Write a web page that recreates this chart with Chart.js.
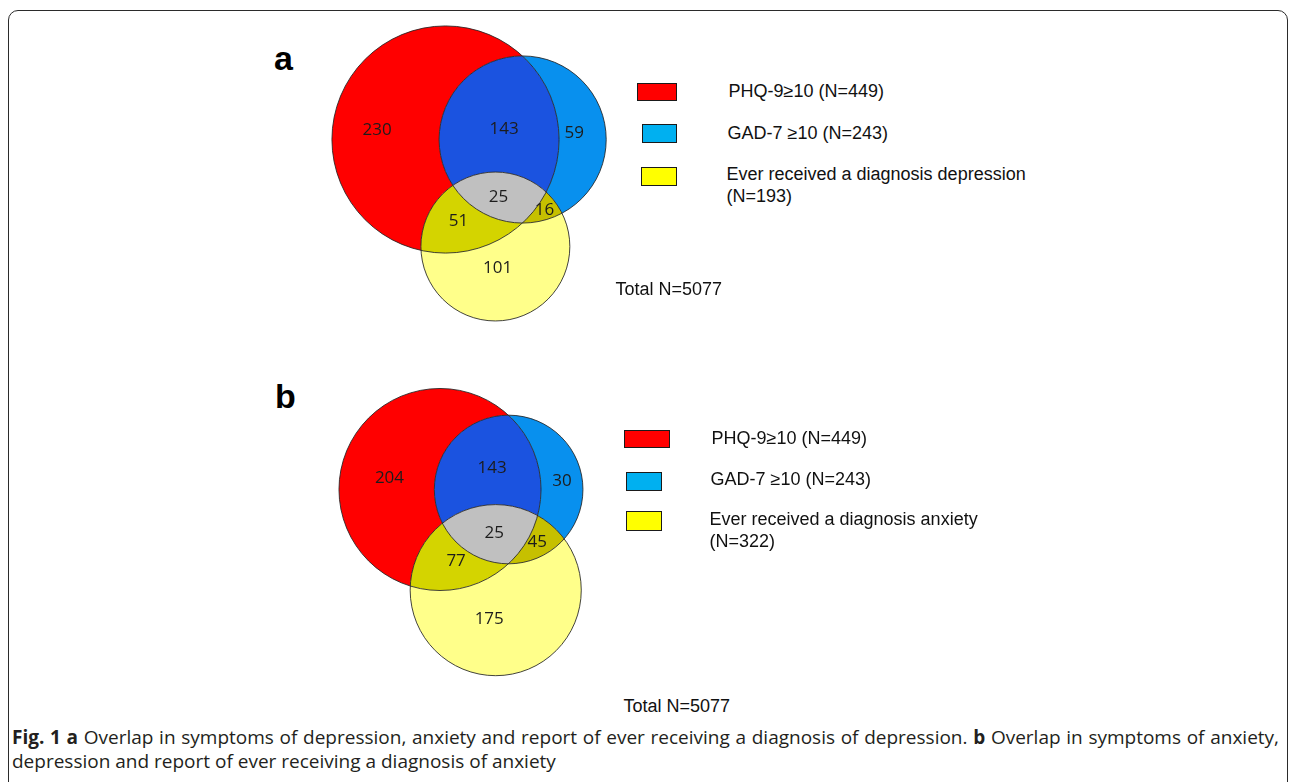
<!DOCTYPE html>
<html>
<head>
<meta charset="utf-8">
<script src="https://cdn.jsdelivr.net/npm/chart.js@4.4.1/dist/chart.umd.min.js"></script>
<style>
  body { margin: 0; background: #fff; }
  #fig { position: relative; width: 1290px; height: 782px; overflow: hidden; font-family: "Liberation Sans", Arial, sans-serif; color: #111; }
  .frame { position: absolute; left: 8px; top: 10px; width: 1280px; height: 820px; border: 1.5px solid #2b2b2b; border-radius: 10px; box-sizing: border-box; }
  .panel { position: absolute; }
  .letter { position: absolute; font-weight: bold; font-size: 34px; line-height: 34px; color: #000; }
  .swatch { position: absolute; border: 1.5px solid #1a1a1a; box-sizing: border-box; }
  .lbl { position: absolute; font-size: 18px; line-height: 22.4px; width: 310px; color: #111; }
  .total { position: absolute; font-size: 18px; line-height: 22px; white-space: nowrap; color: #111; }
  .caption { position: absolute; left: 12px; width: 1267px; font-family: "Open Sans", "Noto Sans", sans-serif; font-size: 19px; line-height: 24px; color: #231f20; white-space: nowrap; }
  .caption.first { top: 725px; text-align: justify; text-align-last: justify; }
  .caption.last { top: 749px; }
</style>
</head>
<body>
<div id="fig">
  <div class="frame"></div>
  <div class="letter" style="left:274px;top:41px">a</div>
  <div class="letter" style="left:275px;top:379px">b</div>
  <div class="panel" style="left:300px;top:10px;width:330px;height:330px"><canvas id="vennA"></canvas></div>
  <div class="panel" style="left:300px;top:370px;width:330px;height:320px"><canvas id="vennB"></canvas></div>
  <div id="legendA"></div>
  <div id="legendB"></div>
  <div class="caption first"><b>Fig. 1 a</b> Overlap in symptoms of depression, anxiety and report of ever receiving a diagnosis of depression. <b>b</b> Overlap in symptoms of anxiety,</div>
  <div class="caption last">depression and report of ever receiving a diagnosis of anxiety</div>
</div>
<script>
// sets: PHQ-9, GAD-7, reported diagnosis
const setNamesA = ['PHQ-9≥10', 'GAD-7 ≥10', 'Ever received a diagnosis depression'];
const setNamesB = ['PHQ-9≥10', 'GAD-7 ≥10', 'Ever received a diagnosis anxiety'];
const setTotalsA = [449, 243, 193];
const setTotalsB = [449, 243, 322];
const totalN = 5077;

// regions as bit masks: 1 = PHQ, 2 = GAD, 4 = diagnosis
const regionMasks = [1, 3, 2, 7, 5, 6, 4];
const regionCountsA = [230, 143, 59, 25, 51, 16, 101];
const regionCountsB = [204, 143, 30, 25, 77, 45, 175];

const regionColors = { 1: '#ff0000', 2: '#0890ee', 3: '#1b53e0', 4: '#ffff8a', 5: '#d4d400', 6: '#c6c000', 7: '#c0c0c0' };
const swatchColors = ['#ff0000', '#00b0f0', '#ffff00'];

// label offsets from the region centroid, in px
const labelNudgeA = [[-27, 6], [3, 4], [1, 0], [-3, 2], [-2, -5], [0, 0], [-6, -4]];
const labelNudgeB = [[-13, 4], [4, -2], [7, 6], [2, 2], [7, -4], [-2, 0], [-15, 4]];

// circle areas proportional to counts, distances solved from pairwise overlaps
function lensArea(r1, r2, d) {
  if (d >= r1 + r2) return 0;
  if (d <= Math.abs(r1 - r2)) return Math.PI * Math.min(r1, r2) ** 2;
  const a1 = Math.acos((d * d + r1 * r1 - r2 * r2) / (2 * d * r1));
  const a2 = Math.acos((d * d + r2 * r2 - r1 * r1) / (2 * d * r2));
  return r1 * r1 * a1 + r2 * r2 * a2 - 0.5 * Math.sqrt((-d + r1 + r2) * (d + r1 - r2) * (d - r1 + r2) * (d + r1 + r2));
}

function distanceFor(r1, r2, area) {
  let lo = Math.abs(r1 - r2), hi = r1 + r2;
  for (let i = 0; i < 60; i++) {
    const mid = (lo + hi) / 2;
    if (lensArea(r1, r2, mid) > area) lo = mid; else hi = mid;
  }
  return (lo + hi) / 2;
}

function vennLayout(totals, counts) {
  const r = totals.map(n => Math.sqrt(n / Math.PI));
  const both = (a, b) => regionMasks.reduce((s, m, i) => s + ((m & a) && (m & b) ? counts[i] : 0), 0);
  const dAB = distanceFor(r[0], r[1], both(1, 2));
  const dAC = distanceFor(r[0], r[2], both(1, 4));
  const dBC = distanceFor(r[1], r[2], both(2, 4));
  const cx = (dAC * dAC - dBC * dBC + dAB * dAB) / (2 * dAB);
  const cy = -Math.sqrt(Math.max(0, dAC * dAC - cx * cx));
  return [{ x: 0, y: 0, r: r[0] }, { x: dAB, y: 0, r: r[1] }, { x: cx, y: cy, r: r[2] }];
}

function clipRegion(ctx, circles, mask, area) {
  circles.forEach((c, i) => {
    ctx.beginPath();
    if (mask & (1 << i)) {
      ctx.arc(c.px, c.py, c.pr, 0, Math.PI * 2);
      ctx.clip();
    } else {
      ctx.rect(area.left - 5, area.top - 5, area.right - area.left + 10, area.bottom - area.top + 10);
      ctx.arc(c.px, c.py, c.pr, 0, Math.PI * 2);
      ctx.clip('evenodd');
    }
  });
}

const vennPlugin = {
  id: 'venn',
  afterDatasetsDraw(chart, args, opts) {
    const { ctx, chartArea } = chart;
    const xs = chart.scales.x, ys = chart.scales.y;
    const circles = chart.data.datasets.map(ds => {
      const p = ds.data[0];
      const px = xs.getPixelForValue(p.x);
      return { px, py: ys.getPixelForValue(p.y), pr: Math.abs(xs.getPixelForValue(p.x + ds.radiusUnits) - px) };
    });

    regionMasks.forEach(m => {
      ctx.save();
      clipRegion(ctx, circles, m, chartArea);
      ctx.fillStyle = regionColors[m];
      ctx.fillRect(chartArea.left, chartArea.top, chartArea.right - chartArea.left, chartArea.bottom - chartArea.top);
      ctx.restore();
    });

    ctx.save();
    ctx.strokeStyle = 'rgba(35,35,35,0.85)';
    ctx.lineWidth = 1;
    circles.forEach(c => {
      ctx.beginPath();
      ctx.arc(c.px, c.py, c.pr, 0, Math.PI * 2);
      ctx.stroke();
    });
    ctx.restore();

    // label each region near its centroid
    const sums = {};
    regionMasks.forEach(m => { sums[m] = { x: 0, y: 0, n: 0 }; });
    for (let py = Math.floor(chartArea.top); py < chartArea.bottom; py++) {
      for (let px = Math.floor(chartArea.left); px < chartArea.right; px++) {
        let m = 0;
        circles.forEach((c, i) => {
          if ((px - c.px) ** 2 + (py - c.py) ** 2 <= c.pr * c.pr) m |= 1 << i;
        });
        if (sums[m]) { sums[m].x += px; sums[m].y += py; sums[m].n++; }
      }
    }
    ctx.save();
    ctx.font = '17px "Open Sans", "Noto Sans", sans-serif';
    ctx.fillStyle = '#1c1c1c';
    ctx.textAlign = 'center';
    ctx.textBaseline = 'middle';
    regionMasks.forEach((m, i) => {
      const s = sums[m];
      if (!s.n) return;
      const nudge = opts.nudge[i];
      ctx.fillText(String(opts.counts[i]), s.x / s.n + nudge[0], s.y / s.n + nudge[1]);
    });
    ctx.restore();
  }
};

function makeVenn(canvasId, totals, counts, names, nudge, view) {
  const el = document.getElementById(canvasId);
  const W = el.parentNode.clientWidth, H = el.parentNode.clientHeight;
  const circles = vennLayout(totals, counts);
  return new Chart(el, {
    type: 'scatter',
    data: {
      datasets: circles.map((c, i) => ({
        label: names[i],
        data: [{ x: c.x, y: c.y }],
        radiusUnits: c.r,
        pointRadius: 0,
        pointHoverRadius: 0
      }))
    },
    options: {
      responsive: true,
      maintainAspectRatio: false,
      animation: false,
      events: [],
      layout: { padding: 0 },
      plugins: {
        legend: { display: false },
        tooltip: { enabled: false },
        venn: { counts: counts, nudge: nudge }
      },
      scales: {
        x: { type: 'linear', display: false, min: -view.cx / view.k, max: (W - view.cx) / view.k },
        y: { type: 'linear', display: false, min: -(H - view.cy) / view.k, max: view.cy / view.k }
      }
    },
    plugins: [vennPlugin]
  });
}

function buildLegend(id, names, totals, rows, totalPos) {
  const host = document.getElementById(id);
  rows.forEach((row, i) => {
    const sw = document.createElement('div');
    sw.className = 'swatch';
    sw.style.cssText = `left:${row.box[0]}px;top:${row.box[1]}px;width:${row.box[2]}px;height:${row.box[3]}px;background:${swatchColors[i]}`;
    host.appendChild(sw);
    const t = document.createElement('div');
    t.className = 'lbl';
    t.style.left = row.text[0] + 'px';
    t.style.top = row.text[1] + 'px';
    t.textContent = `${names[i]} (N=${totals[i]})`;
    host.appendChild(t);
  });
  const tot = document.createElement('div');
  tot.className = 'total';
  tot.style.left = totalPos[0] + 'px';
  tot.style.top = totalPos[1] + 'px';
  tot.textContent = `Total N=${totalN}`;
  host.appendChild(tot);
}

// view: pixel position of the first circle's centre inside the canvas, k = px per unit
makeVenn('vennA', setTotalsA, regionCountsA, setNamesA, labelNudgeA, { cx: 145.5, cy: 129.5, k: 9.5 });
makeVenn('vennB', setTotalsB, regionCountsB, setNamesB, labelNudgeB, { cx: 140, cy: 119.5, k: 8.45 });

buildLegend('legendA', setNamesA, setTotalsA, [
  { box: [637, 83, 40, 18], text: [728.5, 80] },
  { box: [642, 124, 35, 19], text: [727.5, 121.5] },
  { box: [641, 167, 36, 19], text: [726.5, 162.5] }
], [615.5, 278]);
buildLegend('legendB', setNamesB, setTotalsB, [
  { box: [624, 430, 46, 18], text: [711.5, 426.5] },
  { box: [626, 472, 36, 19], text: [710.5, 468] },
  { box: [626, 511, 36, 20], text: [709.5, 507.5] }
], [623.5, 695]);
</script>
</body>
</html>
